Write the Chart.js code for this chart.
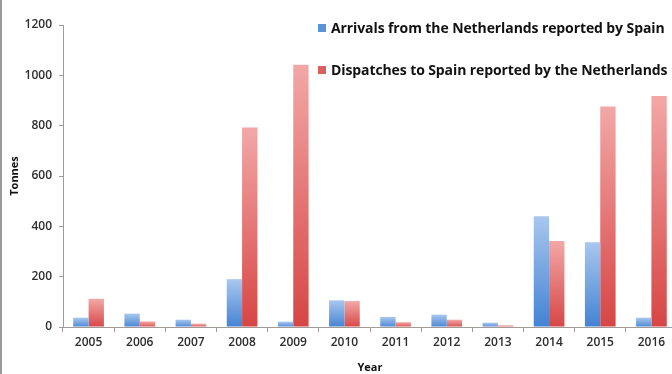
<!DOCTYPE html>
<html lang="en">
<head>
  <meta charset="UTF-8" />
  <title>Arrivals and dispatches, Netherlands - Spain</title>
  <style>
    html, body { margin: 0; padding: 0; background: #fff; }
    body { width: 672px; height: 374px; overflow: hidden; position: relative; }
    #frame { position: absolute; left: 0; top: 0; width: 672px; height: 374px; overflow: hidden; border-left: 2px solid #9a9a9a; box-sizing: border-box; }
    #wrap { position: absolute; left: -2px; top: 0; width: 700px; height: 374px; }
    #legend { position: absolute; left: 316px; top: 18px; font-family: "Open Sans", Lato, sans-serif; font-weight: 700; font-size: 14px; letter-spacing: -0.1px; color: #111; white-space: nowrap; }
    #legend .item { display: flex; align-items: center; height: 19px; margin-bottom: 23px; }
    #legend .box { width: 8px; height: 8px; margin-right: 5px; }
  </style>
  <script src="https://cdn.jsdelivr.net/npm/chart.js"></script>
</head>
<body>
  <div id="frame">
    <div id="wrap"><canvas id="chart" width="700" height="374"></canvas></div>
    <div id="legend"></div>
  </div>

  <script>
    const years = ['2005', '2006', '2007', '2008', '2009', '2010', '2011', '2012', '2013', '2014', '2015', '2016'];
    const arrivals = [37, 53, 29, 190, 21, 106, 40, 49, 17, 440, 337, 37];
    const dispatches = [112, 22, 13, 793, 1042, 103, 19, 29, 7, 342, 876, 918];
    const seriesNames = ['Arrivals from the Netherlands reported by Spain', 'Dispatches to Spain reported by the Netherlands'];

    // Farbverlauf pro Balken: oben heller, unten kräftiger
    function grad(top, bottom) {
      return (c) => {
        const ch = c.chart;
        if (!ch.chartArea || c.parsed == null) return bottom;
        const yTop = ch.scales.y.getPixelForValue(c.parsed.y);
        const yBase = ch.scales.y.getPixelForValue(0);
        const g = ch.ctx.createLinearGradient(0, yTop, 0, yBase + 1);
        g.addColorStop(0, top);
        g.addColorStop(1, bottom);
        return g;
      };
    }

    const legendEl = document.getElementById('legend');
    legendEl.innerHTML = seriesNames.map((n, i) =>
      `<div class="item"><span class="box" style="background:${i ? '#d9605f' : '#5b93d8'}"></span>${n}</div>`).join('');

    const axisColor = '#a39a96';
    const tickFont = { family: '"Open Sans", Lato, sans-serif', size: 12, weight: 600 };

    new Chart(document.getElementById('chart'), {
      type: 'bar',
      data: {
        labels: years,
        datasets: [
          { label: seriesNames[0], data: arrivals, backgroundColor: grad('#a9c7ee', '#4282d3'), categoryPercentage: 0.6, barPercentage: 1 },
          { label: seriesNames[1], data: dispatches, backgroundColor: grad('#f2a8a7', '#d64544'), categoryPercentage: 0.6, barPercentage: 1 }
        ]
      },
      options: {
        responsive: false,
        animation: false,
        layout: { padding: { top: 25, right: 23, left: 8, bottom: 0 } },
        plugins: { legend: { display: false }, tooltip: { enabled: false } },
        scales: {
          x: {
            grid: { drawOnChartArea: false, drawTicks: true, tickLength: 5, color: axisColor, offset: true },
            border: { color: axisColor, width: 1 },
            ticks: { font: tickFont, color: '#2e2e2e', padding: 3, maxRotation: 0 },
            title: { display: true, text: 'Year', font: { family: tickFont.family, size: 11, weight: 'bold' }, color: '#111', padding: { top: 0, bottom: 0 } },
            afterFit: (s) => { s.height = 47; }
          },
          y: {
            min: 0, max: 1200,
            grid: { drawOnChartArea: false, drawTicks: true, tickLength: 4, color: axisColor },
            border: { color: axisColor, width: 1 },
            ticks: { stepSize: 200, font: tickFont, color: '#2e2e2e', padding: 7, callback: (v) => String(v) },
            title: { display: true, text: 'Tonnes', font: { family: tickFont.family, size: 11, weight: 'bold' }, color: '#111', padding: { top: 0, bottom: 0 } },
            afterFit: (s) => { s.width = 55; }
          }
        }
      }
    });
  </script>
</body>
</html>
